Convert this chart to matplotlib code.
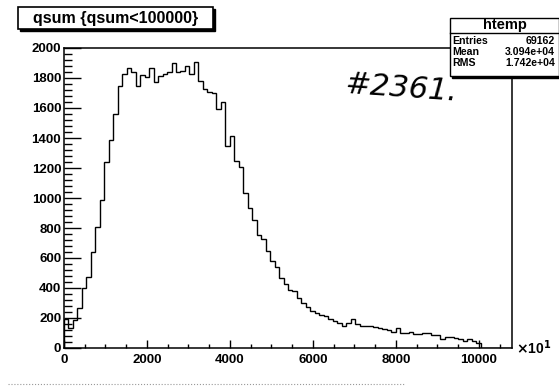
import matplotlib
matplotlib.use('Agg')
import matplotlib.pyplot as plt
from matplotlib.patches import Rectangle
from matplotlib.lines import Line2D
import numpy as np

plt.rcParams['font.family'] = ['Liberation Sans', 'DejaVu Sans']
plt.rcParams['font.weight'] = 'bold'

# qsum histogram (x axis shown in units of 10), 100 bins of 108 from 0 to 10800
bin_width = 108
n_bins = 100
counts = [196, 135, 190, 265, 400, 475, 640, 810, 990, 1240,
          1390, 1560, 1750, 1825, 1870, 1840, 1745, 1820, 1805, 1865,
          1775, 1815, 1825, 1840, 1900, 1840, 1850, 1880, 1830, 1910,
          1780, 1725, 1710, 1700, 1595, 1640, 1345, 1415, 1245, 1210,
          1035, 935, 855, 755, 730, 650, 583, 537, 470, 424,
          390, 380, 335, 301, 272, 245, 233, 222, 211, 195,
          181, 170, 150, 165, 195, 158, 150, 148, 145, 140,
          135, 130, 122, 108, 135, 102, 100, 108, 95, 92,
          100, 98, 88, 85, 60, 72, 72, 70, 58, 45,
          60, 45, 35]
title = 'qsum {qsum<100000}'
stats_name = 'htemp'
stats_labels = ['Entries', 'Mean', 'RMS']
stats_values = ['69162', '3.094e+04', '1.742e+04']
note = '#2361.'

W, H = 559, 390


def px(x, y):
    # pixel position -> figure fraction
    return x / W, 1 - y / H


fig = plt.figure(figsize=(W / 100, H / 100), dpi=100)
ax = fig.add_axes([64 / W, 1 - 348 / H, (512 - 64) / W, (348 - 48) / H])

edges = np.arange(n_bins + 1) * bin_width
values = np.zeros(n_bins)
values[:len(counts)] = counts
ax.stairs(values, edges, color='black', linewidth=1.0)

ax.set_xlim(0, n_bins * bin_width)
ax.set_ylim(0, 2000)
ax.set_xticks(np.arange(0, 10001, 2000))
ax.set_xticks(np.arange(0, 10800, 500), minor=True)
ax.set_yticks(np.arange(0, 2001, 200))
ax.set_yticks(np.arange(0, 2001, 40), minor=True)
ax.tick_params(axis='both', which='both', direction='in', labelsize=9.5, width=1)
ax.tick_params(axis='x', which='major', length=6, pad=4)
ax.tick_params(axis='x', which='minor', length=3)
ax.tick_params(axis='y', which='major', length=12, pad=2)
ax.tick_params(axis='y', which='minor', length=6)
ax.tick_params(top=False, right=False)
for lab in ax.get_xticklabels() + ax.get_yticklabels():
    lab.set_fontweight('bold')
for s in ax.spines.values():
    s.set_linewidth(1.1)

# axis multiplier
fig.text(*px(516, 348), r'$\times$10$^{1}$', fontsize=10, fontweight='bold',
         va='center', ha='left')

# title box with shadow
x0, y0 = px(18, 29)
bw, bh = 195 / W, 22 / H
fig.add_artist(Rectangle((x0 + 2 / W, y0 - 2 / H), bw, bh, transform=fig.transFigure,
                         facecolor='black', edgecolor='black'))
fig.add_artist(Rectangle((x0, y0), bw, bh, transform=fig.transFigure,
                         facecolor='white', edgecolor='black', linewidth=1.2))
fig.text(*px(116, 18), title, fontsize=11.5, fontweight='bold', ha='center', va='center')

# stats box
sx0, sy0 = px(450, 76)
sw, sh = 109 / W, 58 / H
fig.add_artist(Rectangle((sx0 + 2 / W, sy0 - 2 / H), sw, sh, transform=fig.transFigure,
                         facecolor='black', edgecolor='black', zorder=5))
fig.add_artist(Rectangle((sx0, sy0), sw, sh, transform=fig.transFigure,
                         facecolor='white', edgecolor='black', linewidth=1.0, zorder=6))
hx0, hy = px(450, 33)
fig.add_artist(Line2D([hx0, hx0 + sw], [hy, hy], transform=fig.transFigure,
                      color='black', linewidth=1.0, zorder=7))
fig.text(*px(505, 25), stats_name, fontsize=10.5, fontweight='bold',
         ha='center', va='center', zorder=8)
for i, (lab, val) in enumerate(zip(stats_labels, stats_values)):
    yy = 41 + 11 * i
    fig.text(*px(452, yy), lab, fontsize=7.6, fontweight='bold', ha='left', va='center', zorder=8)
    fig.text(*px(555, yy), val, fontsize=7.6, fontweight='bold', ha='right', va='center', zorder=8)

# handwritten run number
fig.text(*px(402, 88), note, fontsize=22, fontweight='light', style='italic',
         ha='center', va='center', rotation=-4, family='DejaVu Sans')

# faint dotted line at bottom of the scan
lx0, ly = px(8, 384)
lx1, _ = px(405, 384)
fig.add_artist(Line2D([lx0, lx1], [ly, ly], transform=fig.transFigure,
                      color='#999999', linewidth=0.8, linestyle=':'))

fig.savefig('out.png', dpi=100, facecolor='white')
